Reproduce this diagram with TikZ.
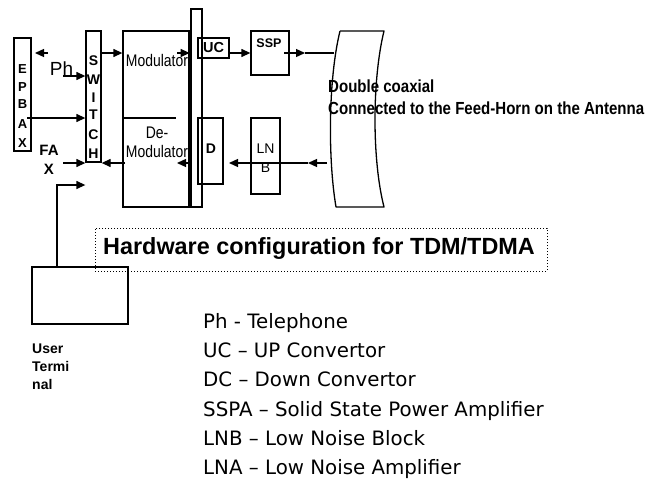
\documentclass[tikz,border=0pt]{standalone}
\usepackage{fontspec}
\setmainfont{Liberation Sans}
\newfontfamily\legfont{DejaVu Sans}
\newfontfamily\narfont[FakeStretch=0.83]{Liberation Sans}
\newfontfamily\narbfont[FakeStretch=0.86]{Liberation Sans Bold}
\usetikzlibrary{arrows.meta}
\tikzset{
  box/.style={draw, line width=1.3pt, inner sep=0pt},
  tri/.style={-{Triangle[length=9pt,width=8pt]}, line width=1.3pt},
  plain/.style={line width=1.3pt},
  bl/.style={font=\bfseries\fontsize{#1}{#1}\selectfont, inner sep=0pt, anchor=base},
  rg/.style={font=\fontsize{#1}{#1}\selectfont, inner sep=0pt, anchor=base},
  nr/.style={font=\narfont\fontsize{#1}{#1}\selectfont, inner sep=0pt, anchor=base},
  nb/.style={font=\narbfont\fontsize{#1}{#1}\selectfont, inner sep=0pt, anchor=base west},
  leg/.style={font=\legfont\fontsize{19.8}{20}\selectfont, inner sep=0pt, anchor=base west},
}
\begin{document}
\begin{tikzpicture}[x=1pt,y=-1pt]
\useasboundingbox (0,0) rectangle (663,479);
% ---------- boxes
\node[box, minimum width=17pt, minimum height=113pt] (epbax) at (22.5,94.5) {};
\node[box, minimum width=15pt, minimum height=131pt] (switch) at (93.5,96.5) {};
\node[box, minimum width=66pt, minimum height=176pt] (modem) at (156,119) {};
\node[box, minimum width=11pt, minimum height=198pt] (bar) at (196.5,108) {};
\draw[line width=2.6pt] (bar.north west) ++(0.6,0) coordinate (bt) -- (bt |- bar.south);
\node[box, minimum width=31pt, minimum height=20pt, font=\bfseries\fontsize{14.5}{14.5}\selectfont] (uc) at (213.5,48) {UC};
\node[box, minimum width=38pt, minimum height=44pt] (ssp) at (270,53) {};
\node[box, minimum width=25pt, minimum height=66pt] (dbox) at (210.5,151) {};
\node[box, minimum width=29pt, minimum height=76pt] (lnb) at (265.5,156) {};
\node[box, minimum width=96pt, minimum height=57pt] (ut) at (80,295.5) {};
\node[draw, dotted, line width=1pt, minimum width=452pt, minimum height=43pt] (tbox) at (321,249.5) {};
% divider in modem
\draw[plain] (modem.west |- 0,118) -- (176,118);
% coax shape
\draw[plain, line join=round] (340,31) -- (384,31) .. controls (372,80) and (372,160) .. (384,207) -- (336,207) .. controls (328,160) and (328,80) .. (340,31);
% ---------- texts
\foreach \l/\y [count=\i] in {E/73,P/91,B/108,A/128,X/147}
  \node[bl=13] (ep\i) at (22.5,\y) {\l};
\foreach \l/\y [count=\i] in {S/65,W/84,I/102,T/119,C/139,H/158}
  \node[bl=14] (sw\i) at (93.5,\y) {\l};
\node[rg=19] (ph) at (61.5,75) {Ph};
\node[bl=15] (fax1) at (49,155) {FA};
\node[bl=15] (fax2) at (49,174) {X};
\node[nr=16.8] (mod1) at (157,66) {Modulator};
\node[nr=16.8] (dem1) at (157,138) {De-};
\node[nr=16.8] (dem2) at (157,157) {Modulator};
\node[bl=12.5] (ssptxt) at (269,47) {SSP};
\node[bl=14] (dtxt) at (211,153) {D};
\node[rg=14] (ln1) at (265.5,153) {LN};
\node[rg=14] (ln2) at (265.5,172) {B};
\node[nb=17.5] (cx1) at (328,92.5) {Double coaxial};
\node[nb=17.5] (cx2) at (328,114) {Connected to the Feed-Horn on the Antenna};
\node[bl=23.4, anchor=base west] (title) at (103,254) {Hardware configuration for TDM/TDMA};
\node[bl=14, anchor=base west] (u1) at (32,353) {User};
\node[bl=14, anchor=base west] (u2) at (32,371) {Termi};
\node[bl=14, anchor=base west] (u3) at (32,389) {nal};
\node[leg] (l1) at (203,328) {Ph - Telephone};
\node[leg] (l2) at (203,357) {UC – UP Convertor};
\node[leg] (l3) at (203,386.5) {DC – Down Convertor};
\node[leg] (l4) at (203,416) {SSPA – Solid State Power Amplifier};
\node[leg] (l5) at (203,445) {LNB – Low Noise Block};
\node[leg] (l6) at (203,474) {LNA – Low Noise Amplifier};
% ---------- connectors
\coordinate (c1) at (48,53);
\draw[tri] (c1) -- (35,53) coordinate (c1e);
\coordinate (c2) at (63,76);
\draw[tri] (c2) -- (switch.west |- c2);
\coordinate (c3) at (27,118);
\draw[tri] (c3) -- (switch.west |- c3);
\coordinate (c4) at (63,163);
\draw[tri] (c4) -- (switch.west |- c4);
\coordinate (c5) at (57,185);
\draw[tri] (ut.north -| c5) -- (c5) -- (switch.west |- c5);
\draw[tri] (switch.east |- 0,53) -- (modem.west |- 0,53);
\draw[tri] (125,163) -- (switch.east |- 0,163);
\draw[tri] (177,53) -- (modem.east |- 0,53);
\draw[tri] (190,163) -- (177,163);
\draw[tri] (uc.east |- 0,53) -- (ssp.west |- 0,53);
\coordinate (m1) at (305,53);
\draw[tri] (284,53) -- (m1);
\draw[plain] (m1) -- (334,53);
\coordinate (m2) at (308,163);
\draw[tri] (327,163) -- (m2);
\draw[tri] (m2) -- (229,163);
\end{tikzpicture}
\end{document}
